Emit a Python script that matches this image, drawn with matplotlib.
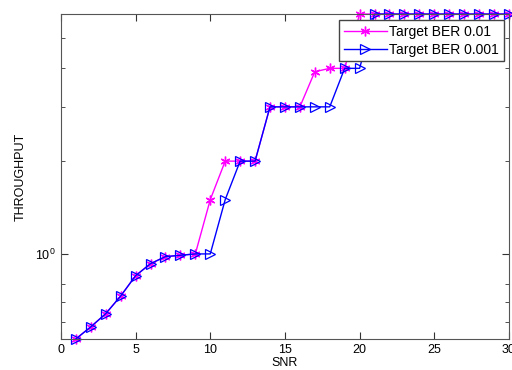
import matplotlib
matplotlib.use("Agg")
from matplotlib import pyplot as plt
from matplotlib import ticker
import numpy as np

snr = list(range(1, 31))
thr_01 = [0.53, 0.58, 0.64, 0.73, 0.85, 0.93, 0.98, 0.99, 1.0, 1.5,
          2.0, 2.0, 2.0, 3.0, 3.0, 3.0, 3.9, 4.0, 4.0, 6.0,
          6.0, 6.0, 6.0, 6.0, 6.0, 6.0, 6.0, 6.0, 6.0, 6.0]
thr_001 = [0.53, 0.58, 0.64, 0.73, 0.85, 0.93, 0.98, 0.99, 1.0, 1.0,
           1.5, 2.0, 2.0, 3.0, 3.0, 3.0, 3.0, 3.0, 4.0, 4.0,
           6.0, 6.0, 6.0, 6.0, 6.0, 6.0, 6.0, 6.0, 6.0, 6.0]

plt.rcParams['font.family'] = ['Liberation Sans', 'DejaVu Sans']

fig = plt.figure(figsize=(5.12, 3.7), dpi=100)
ax = fig.add_axes([0.119, 0.084, 0.875, 0.878])

# matlab style asterisk and hollow right triangles
ax.plot(snr, thr_01, color=(1, 0, 1), marker=(6, 2, 0), markersize=7,
        mew=1, lw=1, label='Target BER 0.01', clip_on=False)
ax.plot(snr, thr_001, color=(0, 0, 1), marker='>', markersize=7, lw=1,
        mew=0.9, markerfacecolor='none', label='Target BER 0.001',
        clip_on=False)

ax.set_yscale('log')
ax.set_xlim(0, 30)
ax.set_ylim(0.53, 6)
ax.set_xticks([0, 5, 10, 15, 20, 25, 30])
ax.yaxis.set_major_locator(ticker.FixedLocator([1]))
ax.yaxis.set_major_formatter(ticker.LogFormatterSciNotation())
ax.yaxis.set_minor_locator(ticker.FixedLocator([0.6, 0.7, 0.8, 2, 3, 4, 5]))
ax.yaxis.set_minor_formatter(ticker.NullFormatter())

ax.tick_params(which='both', direction='in', top=True, right=True,
               labelsize=9, color='#333333')
ax.tick_params(which='major', length=5)
ax.tick_params(which='minor', length=3)
for s in ax.spines.values():
    s.set_color('#555555')

ax.set_xlabel('SNR', fontsize=9, labelpad=1)
ax.set_ylabel('THROUGHPUT', fontsize=9, labelpad=6)

leg = ax.legend(loc='upper right', bbox_to_anchor=(0.989, 0.981), fontsize=10,
                fancybox=False, framealpha=1, edgecolor='#444444',
                borderpad=0.35, handlelength=3.1, handletextpad=0.2,
                labelspacing=0.25, borderaxespad=0)

fig.savefig('out.png', dpi=100)
